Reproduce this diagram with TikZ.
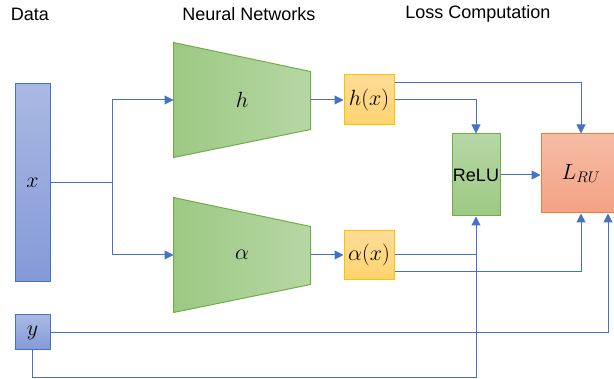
\RequirePackage{fix-cm}
\documentclass[tikz,border=0pt]{standalone}
\usepackage{fontspec}
\setmainfont{Liberation Sans}
\usetikzlibrary{arrows.meta,positioning,backgrounds}
\definecolor{wire}{HTML}{4472C4}
\definecolor{dataTop}{HTML}{AAB9E3}
\definecolor{dataBot}{HTML}{8499D8}
\definecolor{netLeft}{HTML}{9DC983}
\definecolor{netRight}{HTML}{B6D7A5}
\definecolor{netLine}{HTML}{70AD47}
\definecolor{outTop}{HTML}{FFDC98}
\definecolor{outBot}{HTML}{FFD46E}
\definecolor{outLine}{HTML}{FFC000}
\definecolor{lossTop}{HTML}{F6BCA5}
\definecolor{lossBot}{HTML}{F4A284}
\definecolor{lossLine}{HTML}{ED7D31}
\tikzset{every node/.style={inner sep=0pt, font=\fontsize{22}{26}\selectfont},
title/.style={font=\fontsize{18}{22}\selectfont},
databox/.style={draw=wire, line width=1pt, top color=dataTop, bottom color=dataBot},
netbox/.style={minimum width=136pt, minimum height=114pt},
netshade/.style={draw=netLine, line width=1pt, left color=netLeft, right color=netRight},
outbox/.style={draw=outLine, line width=1pt, top color=outTop, bottom color=outBot,
  minimum width=50pt, minimum height=50pt},
relubox/.style={draw=netLine, line width=1pt, top color=netRight, bottom color=netLeft,
  minimum width=48pt, minimum height=82pt, font=\fontsize{18}{22}\selectfont},
lossbox/.style={draw=lossLine, line width=1pt, top color=lossTop, bottom color=lossBot,
  minimum width=80pt, minimum height=79pt}
}

\begin{document}
\begin{tikzpicture}[x=1pt, y=-1pt, on grid, line width=1pt,
    >={Triangle[length=9pt, width=9pt]}]
        \useasboundingbox (0,0) rectangle (614,379);

        % titles
        \node[title] (t_data) at (30,14)  {Data};
        \node[title] (t_net)  at (249,14) {Neural Networks};
        \node[title] (t_loss) at (478,14) {Loss Computation};

        % data
        \node[databox, minimum width=35pt, minimum height=198pt] (x) at (32.5,183) {$x$};
        \node[databox, minimum width=35pt, minimum height=35pt]  (y) [below=149.5pt of x] {$y$};

        % networks
        \node[netbox] (h)                        at (242,100) {$h$};
        \node[netbox] (a) [below=155pt of h]     {$\alpha$};
        \begin{scope}[on background layer]
          \foreach \n in {h,a}
            \shade[netshade] (\n.north west) -- ([yshift=-29pt]\n.north east)
                  -- ([yshift=28pt]\n.south east) -- (\n.south west) -- cycle;
        \end{scope}

        \node[outbox] (hx) [right=127pt of h]     {$h(x)$};
        \node[outbox, minimum height=49pt] (ax) [right=127pt of a] {$\alpha(x)$};

        % loss
        \node[relubox] (relu) at (476,175)   {ReLU};
        \node[lossbox] (L)    at (581,173.5) {$L_{RU}$};

        \coordinate (split) at (112,183);
        \coordinate (bot)   at (0,378);

        \draw[wire] (x.east) -- (split);
        \draw[wire,->] (split) |- (h);
        \draw[wire,->] (split) |- (a);
        \draw[wire,->] (h.east) -- (hx.west);
        \draw[wire,->] (a.east) -- (ax.west);
        \draw[wire,->] ([yshift=17pt]hx.east) -| (L);
        \draw[wire,->] (hx.east) -| (relu);
        \draw[wire,->] (relu.east) -- (relu.east -| L.west);
        \draw[wire]    (ax.east) -- (ax.east -| relu.south);
        \draw[wire,->] ([yshift=-16.5pt]ax.east) -| (L);
        \draw[wire,->] (y.east) -| ([xshift=27pt]L.south);
        \draw[wire,->] (y.south) -- (y.south |- bot) -| (relu.south);
\end{tikzpicture}
\end{document}
